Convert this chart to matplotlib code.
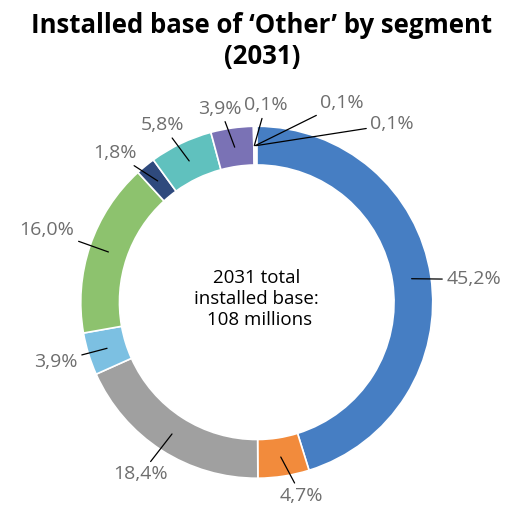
import numpy as np
import matplotlib.pyplot as plt

plt.rcParams['font.family'] = ['Open Sans', 'DejaVu Sans']

values = [45.2, 4.7, 18.4, 3.9, 16.0, 1.8, 5.8, 3.9, 0.1, 0.1, 0.1]
labels = ['45,2%', '4,7%', '18,4%', '3,9%', '16,0%', '1,8%', '5,8%', '3,9%',
          '0,1%', '0,1%', '0,1%']
colors = ['#467EC3', '#F28B3C', '#A0A0A0', '#7CC0E2', '#8DC26E', '#2F4A7D',
          '#60C1BE', '#7A72B5', '#C0504D', '#E6C84A', '#9BBB59']

# label placement (angle in degrees, radius in units of outer radius)
lab_ang = [6, -77, -124, -163.5, 161, 133.6, 118, 100.7, 87.4, 67, 52.7]
lab_r = [1.24, 1.13, 1.18, 1.19, 1.26, 1.17, 1.14, 1.12, 1.12, 1.23, 1.27]

fig = plt.figure(figsize=(5.24, 5.05), dpi=100)
ax = fig.add_axes([0.154, 0.053, 0.672, 0.697])

wedges, _ = ax.pie(values, colors=colors, startangle=90, counterclock=False,
                   radius=1.0, wedgeprops=dict(width=0.22, edgecolor='white', linewidth=1.2))

for w, lab, a, r in zip(wedges, labels, lab_ang, lab_r):
    mid = np.deg2rad((w.theta1 + w.theta2) / 2)
    xy = (0.89 * np.cos(mid), 0.89 * np.sin(mid))
    t = np.deg2rad(a)
    xt = (r * np.cos(t), r * np.sin(t))
    ax.annotate(lab, xy=xy, xytext=xt, ha='center', va='center',
                fontsize=14, color='#6E6E6E',
                arrowprops=dict(arrowstyle='-', color='black', lw=0.9,
                                shrinkA=1, shrinkB=0))

ax.text(0, 0.02, '2031 total\ninstalled base:\n 108 millions', ha='center', va='center',
        fontsize=13.5, color='black', linespacing=1.2)
ax.set_xlim(-1, 1)
ax.set_ylim(-1, 1)
ax.set_aspect('equal')

fig.suptitle('Installed base of \u2018Other\u2019 by segment\n(2031)', fontsize=18.5,
             fontweight='bold', y=0.977, linespacing=1.2)

fig.savefig('out.png', dpi=100)
